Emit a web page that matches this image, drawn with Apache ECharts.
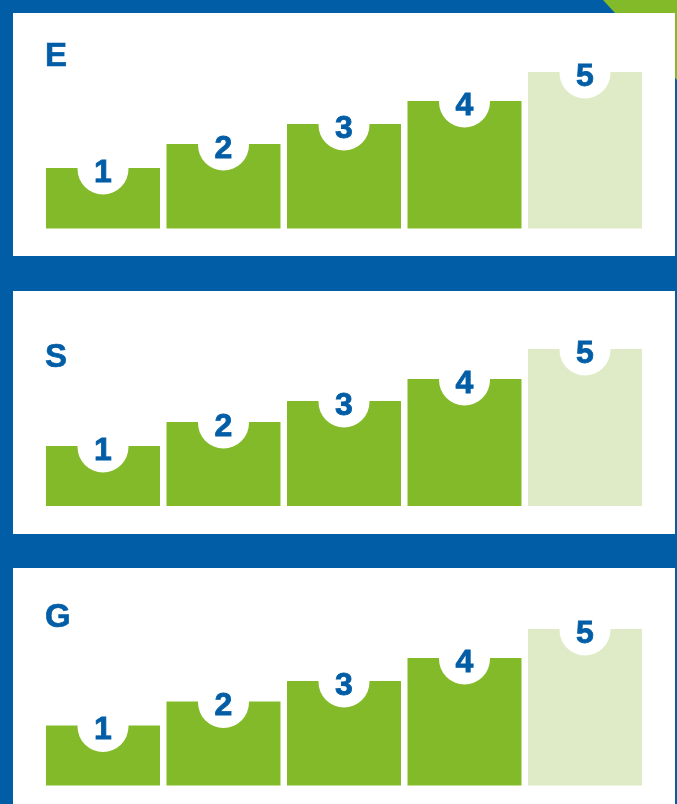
<!DOCTYPE html>
<html>
<head>
<meta charset="utf-8">
<script src="https://cdn.jsdelivr.net/npm/echarts@6/dist/echarts.min.js"></script>
<style>
html,body{margin:0;padding:0;background:#005da6;}
#chart{width:677px;height:804px;}
</style>
</head>
<body>
<div id="chart"></div>
<script>
var categories = ['1', '2', '3', '4', '5'];
var panelTitles = ['E', 'S', 'G'];
var valuesE = [60.5, 84.5, 104.5, 127.5, 156.5];
var valuesS = [60, 84, 105, 127, 157];
var valuesG = [60, 84, 104.5, 127.5, 156.5];
var panelValues = [valuesE, valuesS, valuesG];

var BLUE = '#005da6';
var GREEN = '#83ba29';
var LIGHT = '#dfebc6';

var panelTops = [13, 291, 568];
var panelBottoms = [256, 534, 804];
var baselines = [228.5, 506, 785.5];
var titleTops = [42, 343, 603];

var chart = echarts.init(document.getElementById('chart'), null, {renderer: 'canvas'});

var grids = [], xAxes = [], yAxes = [], series = [], titles = [], graphics = [];

graphics.push({
  type: 'polygon', z: 0,
  shape: {points: [[603, 0], [677, 0], [677, 80]]},
  style: {fill: GREEN}
});

for (var i = 0; i < 3; i++) {
  graphics.push({
    type: 'rect', z: 1,
    shape: {x: 13, y: panelTops[i], width: 662, height: panelBottoms[i] - panelTops[i]},
    style: {fill: '#ffffff'}
  });
  titles.push({
    text: panelTitles[i],
    left: 40,
    top: titleTops[i] - 7,
    textStyle: {color: BLUE, fontSize: 33, fontWeight: 'bold', fontFamily: 'Liberation Sans',
      textBorderColor: BLUE, textBorderWidth: 0.6}
  });
  grids.push({left: 42.75, right: 31.75, top: baselines[i] - 160, height: 160});
  xAxes.push({
    type: 'category', gridIndex: i, data: categories,
    axisLine: {show: false}, axisTick: {show: false}, axisLabel: {show: false}
  });
  yAxes.push({
    type: 'value', gridIndex: i, min: 0, max: 160,
    axisLine: {show: false}, axisTick: {show: false}, axisLabel: {show: false}, splitLine: {show: false}
  });
  var vals = panelValues[i];
  series.push({
    type: 'bar', xAxisIndex: i, yAxisIndex: i, barWidth: 114,
    data: vals.map(function (v, k) {
      return {value: v, itemStyle: {color: k === 4 ? LIGHT : GREEN}};
    }),
    z: 2, silent: true
  });
  series.push({
    type: 'scatter', xAxisIndex: i, yAxisIndex: i,
    symbol: 'circle', symbolSize: 51,
    symbolOffset: [0, 1],
    itemStyle: {color: '#ffffff', opacity: 1},
    data: vals,
    z: 3, silent: true,
    label: {
      show: true, position: 'inside', offset: [0, 4],
      formatter: function (p) { return categories[p.dataIndex]; },
      color: BLUE, fontSize: 32, fontWeight: 'bold', fontFamily: 'Liberation Sans',
      textBorderColor: BLUE, textBorderWidth: 0.8
    }
  });
}

chart.setOption({
  backgroundColor: BLUE,
  animation: false,
  title: titles,
  grid: grids,
  xAxis: xAxes,
  yAxis: yAxes,
  series: series,
  graphic: graphics
});
</script>
</body>
</html>
